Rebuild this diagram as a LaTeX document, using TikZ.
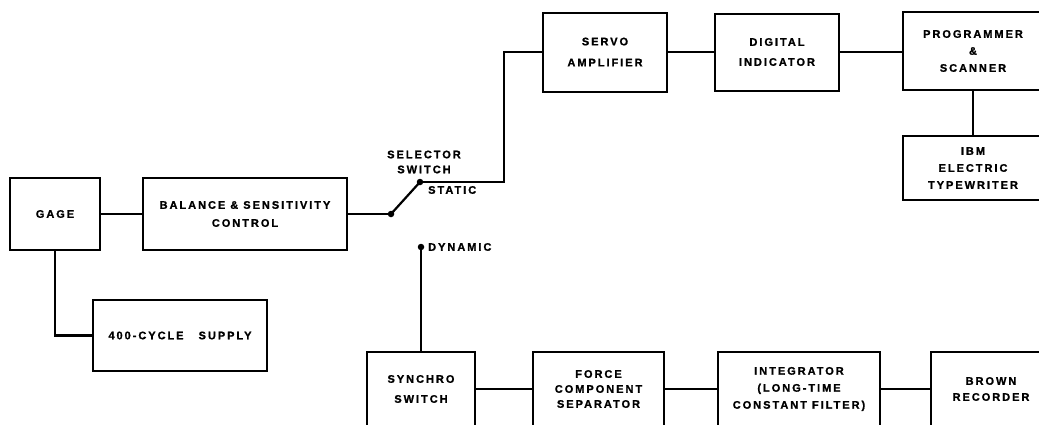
\documentclass[tikz,border=0pt]{standalone}
\usepackage{fontspec}
\newfontfamily\lblfont{Liberation Sans}[LetterSpace=18, BoldFeatures={FakeBold=1.2}]
\usetikzlibrary{calc}
\tikzset{
  lead/.style={font=\lblfont\bfseries\fontsize{11}{#1}\selectfont},
  box/.style={draw, line width=2pt, align=center, inner sep=0pt, lead=17},
  lbl/.style={align=center, inner sep=0pt, lead=15},
  wire/.style={line width=2.2pt},
  dot/.style={circle, fill, inner sep=0pt, minimum size=6.5pt}
}
\begin{document}
\begin{tikzpicture}[x=1pt,y=-1pt]
\useasboundingbox (0,0) rectangle (1039,424);
\clip (0,0) rectangle (1039,424);
% boxes
\node[box, minimum width=90pt, minimum height=72pt] (gage) at (55,214) {GAGE};
\node[box, minimum width=204pt, minimum height=72pt, lead=18] (balance) at (245,214) {BALANCE \& SENSITIVITY\\CONTROL};
\node[box, minimum width=174pt, minimum height=71pt] (supply) at (180,335.5) {400-CYCLE\hspace{10pt} SUPPLY};
\node[box, minimum width=124pt, minimum height=79pt, lead=21] (servo) at (605,52) {SERVO\\AMPLIFIER};
\node[box, minimum width=124pt, minimum height=77pt, lead=20] (digital) at (777,52) {DIGITAL\\INDICATOR};
\node[box, minimum width=140pt, minimum height=78pt] (prog) at (973,51) {PROGRAMMER\\\&\\SCANNER};
\node[box, minimum width=140pt, minimum height=64pt] (ibm) at (973,168) {IBM\\ELECTRIC\\TYPEWRITER};
\node[box, minimum width=108pt, minimum height=74pt, lead=20] (synchro) at (421,389) {SYNCHRO\\SWITCH};
\node[box, minimum width=131pt, minimum height=74pt, lead=15] (force) at (598.5,389) {FORCE\\COMPONENT\\SEPARATOR};
\node[box, minimum width=162pt, minimum height=74pt] (integ) at (799,389) {INTEGRATOR\\(LONG-TIME\\CONSTANT FILTER)};
\node[box, minimum width=120pt, minimum height=74pt, lead=16] (brown) at (991,389) {BROWN\\RECORDER};
% switch
\node[dot] (pivot) at (391,214) {};
\node[dot] (static) at (420,182) {};
\node[dot] (dynamic) at (421,247) {};
\node[lbl] (sel) at (424,162) {SELECTOR\\SWITCH};
\node[lbl, anchor=west] (statlbl) at (428,190) {STATIC};
\node[lbl, anchor=west] (dynlbl) at (428,247) {DYNAMIC};
% connectors
\draw[wire] (gage) -- (balance);
\draw[wire] (balance) -- (pivot.center);
\draw[wire] (pivot.center) -- (static.center);
\draw[wire] (static.center) -- ++(84,0) |- (servo.west);
\draw[wire] (servo) -- (digital);
\draw[wire] (digital.east) -- (digital.east -| prog.west);
\draw[wire] (prog) -- (ibm);
\draw[wire] (gage.south) |- (supply.west);
\draw[wire] (dynamic.center) -- (synchro.north);
\draw[wire] (synchro) -- (force);
\draw[wire] (force) -- (integ);
\draw[wire] (integ) -- (brown);
\end{tikzpicture}
\end{document}
